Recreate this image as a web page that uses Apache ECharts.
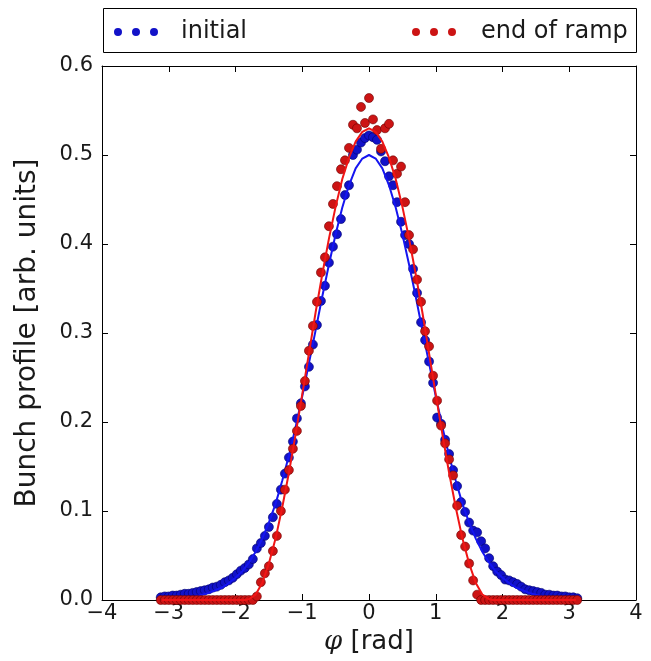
<!DOCTYPE html>
<html><head><meta charset="utf-8">
<script src="https://cdn.jsdelivr.net/npm/echarts@6/dist/echarts.min.js"></script>
<style>html,body{margin:0;padding:0;background:#fff}#c{width:651px;height:661px}</style>
</head><body><div id="c"></div>
<script>
const seriesNames = ['initial', 'end of ramp'];
const xTicks = [-4, -3, -2, -1, 0, 1, 2, 3, 4];
const yTicks = [0.0, 0.1, 0.2, 0.3, 0.4, 0.5, 0.6];

// measured bunch profile, initial
const initialPoints = [
[-3.12,0.003],[-3.06,0.004],[-3.00,0.004],[-2.94,0.005],[-2.88,0.005],[-2.82,0.006],[-2.76,0.007],[-2.70,0.007],
[-2.64,0.008],[-2.58,0.009],[-2.52,0.010],[-2.46,0.011],[-2.40,0.012],[-2.34,0.014],[-2.28,0.015],[-2.22,0.017],
[-2.16,0.020],[-2.10,0.022],[-2.04,0.025],[-1.98,0.029],[-1.92,0.033],[-1.86,0.036],[-1.80,0.040],[-1.74,0.046],
[-1.68,0.058],[-1.62,0.064],[-1.56,0.072],[-1.50,0.082],[-1.44,0.093],[-1.38,0.108],[-1.32,0.124],[-1.26,0.142],
[-1.20,0.160],[-1.14,0.178],[-1.08,0.204],[-1.02,0.221],[-0.96,0.240],[-0.90,0.262],[-0.84,0.287],[-0.78,0.309],
[-0.72,0.336],[-0.66,0.353],[-0.60,0.379],[-0.54,0.397],[-0.48,0.411],[-0.42,0.428],[-0.36,0.455],[-0.30,0.466],
[-0.24,0.500],[-0.18,0.506],[-0.12,0.514],[-0.06,0.519],[0.00,0.522],[0.06,0.520],[0.12,0.517],[0.18,0.504],
[0.24,0.493],[0.30,0.476],[0.36,0.466],[0.42,0.447],[0.48,0.425],[0.54,0.410],[0.60,0.400],[0.66,0.372],
[0.72,0.345],[0.78,0.312],[0.84,0.292],[0.90,0.268],[0.96,0.244],[1.02,0.205],[1.08,0.198],[1.14,0.180],
[1.20,0.164],[1.26,0.146],[1.32,0.128],[1.38,0.110],[1.44,0.099],[1.50,0.087],[1.56,0.078],[1.62,0.076],
[1.68,0.066],[1.74,0.058],[1.80,0.047],[1.86,0.038],[1.92,0.032],[1.98,0.028],[2.04,0.023],[2.10,0.022],
[2.16,0.020],[2.22,0.018],[2.28,0.015],[2.34,0.012],[2.40,0.011],[2.46,0.010],[2.52,0.009],[2.58,0.008],
[2.64,0.006],[2.70,0.006],[2.76,0.005],[2.82,0.005],[2.88,0.004],[2.94,0.004],[3.00,0.003],[3.06,0.003],[3.12,0.002]
];

// measured bunch profile, end of ramp
const rampPoints = [
[-3.12,0],[-3.06,0],[-3.00,0],[-2.94,0],[-2.88,0],[-2.82,0],[-2.76,0],[-2.70,0],[-2.64,0],[-2.58,0],[-2.52,0],[-2.46,0],
[-2.40,0],[-2.34,0],[-2.28,0],[-2.22,0],[-2.16,0],[-2.10,0],[-2.04,0],[-1.98,0],[-1.92,0],[-1.86,0],[-1.80,0],[-1.74,0],
[-1.68,0.004],[-1.62,0.020],[-1.56,0.030],[-1.50,0.038],[-1.44,0.055],[-1.38,0.072],[-1.32,0.100],[-1.26,0.124],
[-1.20,0.146],[-1.14,0.170],[-1.08,0.190],[-1.02,0.218],[-0.96,0.246],[-0.90,0.280],[-0.84,0.308],[-0.78,0.335],
[-0.72,0.368],[-0.66,0.385],[-0.60,0.420],[-0.54,0.445],[-0.48,0.465],[-0.42,0.484],[-0.36,0.494],[-0.30,0.508],
[-0.24,0.534],[-0.18,0.530],[-0.12,0.554],[-0.06,0.536],[0.00,0.564],[0.06,0.540],[0.12,0.528],[0.18,0.507],
[0.24,0.530],[0.30,0.535],[0.36,0.494],[0.42,0.479],[0.48,0.487],[0.54,0.447],[0.60,0.410],[0.66,0.394],
[0.72,0.360],[0.78,0.335],[0.84,0.302],[0.90,0.285],[0.96,0.252],[1.02,0.224],[1.08,0.196],[1.14,0.176],
[1.20,0.158],[1.26,0.140],[1.32,0.106],[1.38,0.073],[1.44,0.060],[1.50,0.041],[1.56,0.022],[1.62,0.006],
[1.68,0],[1.74,0],[1.80,0],[1.86,0],[1.92,0],[1.98,0],[2.04,0],[2.10,0],[2.16,0],[2.22,0],[2.28,0],[2.34,0],
[2.40,0],[2.46,0],[2.52,0],[2.58,0],[2.64,0],[2.70,0],[2.76,0],[2.82,0],[2.88,0],[2.94,0],[3.00,0],[3.06,0],[3.12,0]
];

// fitted curves
const initialFit = [
[-3.1,0.001],[-3.0,0.001],[-2.9,0.002],[-2.8,0.002],[-2.7,0.003],[-2.6,0.004],[-2.5,0.006],[-2.4,0.008],[-2.3,0.011],
[-2.2,0.014],[-2.1,0.019],[-2.0,0.025],[-1.9,0.032],[-1.8,0.042],[-1.7,0.054],[-1.6,0.069],[-1.5,0.087],[-1.4,0.108],
[-1.3,0.134],[-1.2,0.162],[-1.1,0.194],[-1.0,0.229],[-0.9,0.266],[-0.8,0.303],[-0.7,0.341],[-0.6,0.377],[-0.5,0.411],
[-0.4,0.441],[-0.3,0.466],[-0.2,0.485],[-0.1,0.496],[0.0,0.500],[0.1,0.496],[0.2,0.485],[0.3,0.466],[0.4,0.441],
[0.5,0.411],[0.6,0.377],[0.7,0.341],[0.8,0.303],[0.9,0.266],[1.0,0.229],[1.1,0.194],[1.2,0.162],[1.3,0.134],
[1.4,0.108],[1.5,0.087],[1.6,0.069],[1.7,0.054],[1.8,0.042],[1.9,0.032],[2.0,0.025],[2.1,0.019],[2.2,0.014],
[2.3,0.011],[2.4,0.008],[2.5,0.006],[2.6,0.004],[2.7,0.003],[2.8,0.002],[2.9,0.002],[3.0,0.001],[3.1,0.001]
];
const rampFit = [
[-3.1,0],[-1.85,0],[-1.8,0.001],[-1.7,0.006],[-1.6,0.019],[-1.5,0.041],[-1.4,0.069],[-1.3,0.104],[-1.2,0.143],
[-1.1,0.186],[-1.0,0.231],[-0.9,0.277],[-0.8,0.323],[-0.7,0.366],[-0.6,0.406],[-0.5,0.442],[-0.4,0.473],[-0.3,0.497],
[-0.2,0.515],[-0.1,0.526],[0.0,0.530],[0.1,0.526],[0.2,0.515],[0.3,0.497],[0.4,0.473],[0.5,0.442],[0.6,0.406],
[0.7,0.366],[0.8,0.323],[0.9,0.277],[1.0,0.231],[1.1,0.186],[1.2,0.143],[1.3,0.104],[1.4,0.069],[1.5,0.041],
[1.6,0.019],[1.7,0.006],[1.8,0.001],[1.85,0],[3.1,0]
];

const FONT = 'DejaVu Sans';
const TXT = '#1a1a1a';
const blueDot = '#1212c8', blueLine = '#1515f0';
const redDot = '#cc1414', redLine = '#f01515';
const threeDots = 'path://M0,4a4,4 0 1,0 8,0a4,4 0 1,0 -8,0M18,4a4,4 0 1,0 8,0a4,4 0 1,0 -8,0M36,4a4,4 0 1,0 8,0a4,4 0 1,0 -8,0';

const chart = echarts.init(document.getElementById('c'), null, {renderer: 'canvas'});
const minus = v => String(v).replace('-', '\u2212');
const axisCommon = {
  axisLine: {show: true, onZero: false, lineStyle: {color: '#000', width: 1}},
  axisTick: {show: true, inside: true, length: 6, lineStyle: {color: '#000', width: 1}},
  splitLine: {show: false}
};
const option = {
  animation: false,
  backgroundColor: '#fff',
  textStyle: {fontFamily: FONT},
  graphic: [{
    type: 'rect', left: 103, top: 8, z: -1,
    shape: {width: 533, height: 44},
    style: {fill: '#fff', stroke: '#000', lineWidth: 1}
  }],
  legend: [
    {data: [seriesNames[0]], left: 114, top: 20, padding: 0, icon: threeDots, itemWidth: 44, itemHeight: 8,
     itemStyle: {color: blueDot, borderWidth: 0}, textStyle: {fontFamily: FONT, fontSize: 24, color: TXT, padding: [0,0,0,18]}},
    {data: [seriesNames[1]], left: 412, top: 20, padding: 0, icon: threeDots, itemWidth: 44, itemHeight: 8,
     itemStyle: {color: redDot, borderWidth: 0}, textStyle: {fontFamily: FONT, fontSize: 24, color: TXT, padding: [0,0,0,20]}}
  ],
  grid: {left: 102, right: 15, top: 66, bottom: 61, containLabel: false},
  xAxis: [
    Object.assign({type: 'value', position: 'bottom', min: xTicks[0], max: xTicks[xTicks.length-1], interval: 1,
      name: '{i|\u03C6} [rad]', nameLocation: 'middle', nameGap: 29,
      nameTextStyle: {fontFamily: FONT, fontSize: 26, color: TXT,
        rich: {i: {fontFamily: 'DejaVu Serif', fontStyle: 'italic', fontSize: 26, color: TXT}}},
      axisLabel: {fontFamily: FONT, fontSize: 21, color: TXT, margin: 3, formatter: minus}}, axisCommon),
    Object.assign({type: 'value', position: 'top', min: xTicks[0], max: xTicks[xTicks.length-1], interval: 1,
      axisLabel: {show: false}}, axisCommon)
  ],
  yAxis: [
    Object.assign({type: 'value', position: 'left', min: yTicks[0], max: yTicks[yTicks.length-1], interval: 0.1,
      name: 'Bunch profile [arb. units]', nameLocation: 'middle', nameGap: 60,
      nameTextStyle: {fontFamily: FONT, fontSize: 28, color: TXT},
      axisLabel: {fontFamily: FONT, fontSize: 21, color: TXT, margin: 9, formatter: v => v.toFixed(1)}}, axisCommon),
    Object.assign({type: 'value', position: 'right', min: yTicks[0], max: yTicks[yTicks.length-1], interval: 0.1,
      axisLabel: {show: false}}, axisCommon)
  ],
  series: [
    {name: seriesNames[0], type: 'scatter', data: initialPoints, symbolSize: 9, clip: true,
     itemStyle: {color: blueDot, opacity: 1, borderColor: '#00006a', borderWidth: 0.6}, z: 2},
    {name: 'initialFit', type: 'line', data: initialFit, showSymbol: false, symbol: 'none', smooth: false, clip: true,
     lineStyle: {color: blueLine, width: 2}, z: 3},
    {name: seriesNames[1], type: 'scatter', data: rampPoints, symbolSize: 9, clip: true,
     itemStyle: {color: redDot, opacity: 1, borderColor: '#6a0000', borderWidth: 0.6}, z: 4},
    {name: 'rampFit', type: 'line', data: rampFit, showSymbol: false, symbol: 'none', smooth: false, clip: true,
     lineStyle: {color: redLine, width: 2}, z: 5}
  ]
};
chart.setOption(option);
</script>
</body></html>
